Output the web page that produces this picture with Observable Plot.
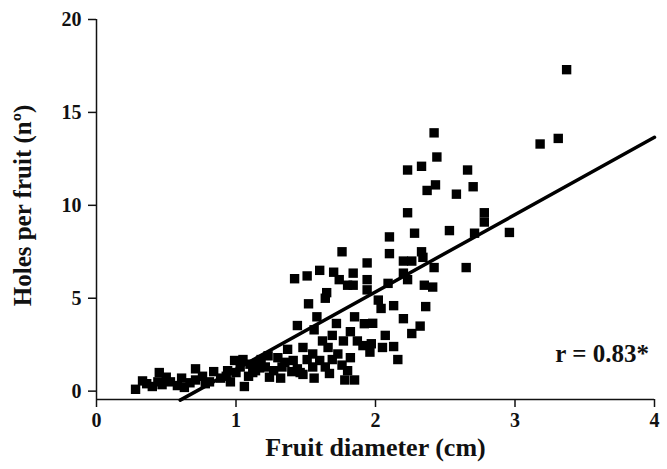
<!DOCTYPE html>
<html>
<head>
<meta charset="utf-8">
<script src="https://cdn.jsdelivr.net/npm/d3@7"></script>
<script src="https://cdn.jsdelivr.net/npm/@observablehq/plot@0.6"></script>
<style>
  html, body { margin: 0; padding: 0; background: #fff; }
  #chart svg { display: block; }
</style>
</head>
<body>
<div id="chart"></div>
<script>
// Fruit diameter (cm)
const diameter = [
  0.28,0.33,0.36,0.40,0.44,0.45,0.47,0.50,0.53,0.58,0.61,0.63,0.67,0.71,0.71,0.76,0.78,0.81,0.84,0.89,
  0.93,0.94,0.96,0.99,1.00,1.03,1.05,1.06,1.09,1.12,1.14,1.15,1.18,
  1.21,1.23,1.24,1.30,1.32,1.33,1.37,1.41,1.44,1.44,1.46,1.48,1.51,1.52,1.55,1.55,1.56,1.56,1.58,1.60,
  1.62,1.64,1.64,1.65,1.66,1.67,1.69,1.69,1.72,1.73,1.76,1.77,1.78,1.80,1.82,1.82,1.85,1.85,1.87,1.91,
  1.92,1.96,1.97,1.98,2.02,2.04,2.05,2.07,2.13,2.13,2.16,2.20,2.26,2.32,2.36,
  1.42,1.51,1.60,1.70,1.74,1.76,1.80,1.84,1.84,1.94,1.94,1.94,2.09,2.10,2.10,2.20,2.20,2.23,2.26,2.28,
  2.33,2.34,2.35,2.41,2.42,2.23,2.23,2.33,2.37,2.42,2.43,2.44,2.53,2.58,2.65,2.66,2.70,2.71,2.78,2.78,
  2.96,3.18,3.31,3.37,
  1.10,1.17,1.27,1.35,1.40,1.48
];
// Holes per fruit (nº)
const holes = [
  0.10,0.55,0.40,0.25,0.50,1.00,0.35,0.75,0.50,0.30,0.70,0.20,0.45,1.20,0.60,0.80,0.40,0.50,1.05,0.70,
  0.80,1.10,0.50,1.65,1.00,1.30,1.70,0.25,0.80,1.00,1.10,1.50,1.70,
  1.30,1.90,0.75,1.80,0.70,1.30,2.25,1.65,1.20,3.53,1.00,2.35,1.70,4.70,1.30,2.00,0.70,3.30,4.00,1.65,
  2.70,1.30,5.00,5.30,2.35,0.95,1.70,3.00,3.64,2.00,1.40,2.70,0.60,1.10,1.80,3.20,4.00,0.60,2.70,2.45,
  3.63,2.10,2.55,3.65,4.90,4.45,2.35,3.00,2.40,4.60,1.70,3.90,3.10,3.50,4.55,
  6.05,6.20,6.50,6.40,6.00,7.50,5.70,6.35,5.70,6.90,6.00,5.45,5.80,8.30,7.40,7.00,6.35,6.00,7.00,8.50,
  7.50,7.20,5.70,5.60,6.65,9.60,11.90,12.10,10.80,13.90,11.10,12.60,8.64,10.60,6.65,11.90,11.00,8.50,9.60,9.10,
  8.54,13.30,13.60,17.30,
  1.45,1.25,1.10,1.55,1.05,0.90
];
// Linear fit
const fitSlope = 4.16;
const fitIntercept = -2.98;
const fitXRange = [0.6, 4];
const xTicks = [0, 1, 2, 3, 4];
const yTicks = [0, 5, 10, 15, 20];
const xLabel = "Fruit diameter (cm)";
const yLabel = "Holes per fruit (nº)";
const rLabel = "r = 0.83*";
const rPos = {x: 3.96, y: 2.0};

const points = diameter.map((d, i) => ({x: d, y: holes[i]}));
const fit = fitXRange.map(x => ({x, y: fitIntercept + fitSlope * x}));

const chart = Plot.plot({
  width: 667,
  height: 469,
  marginLeft: 96,
  marginRight: 13,
  marginTop: 19,
  marginBottom: 70,
  style: {fontFamily: "'Liberation Serif', 'Times New Roman', serif", fontWeight: "bold", fontSize: "20px", color: "#111", background: "#fff"},
  x: {domain: [0, 4]},
  y: {domain: [-0.45, 20]},
  marks: [
    Plot.ruleX([0], {stroke: "#111", strokeWidth: 1.5}),
    Plot.ruleY([-0.45], {stroke: "#111", strokeWidth: 1.5}),
    Plot.axisX({ticks: xTicks, tickSize: 8, tickPadding: 5, tickFormat: d => String(d), label: null, fontSize: 20, fontWeight: "bold", strokeWidth: 1.5}),
    Plot.axisY({ticks: yTicks, tickSize: 8, tickPadding: 7, tickFormat: d => String(d), label: null, fontSize: 20, fontWeight: "bold", strokeWidth: 1.5}),
    Plot.dot(points, {x: "x", y: "y", symbol: "square", r: 5.3, fill: "#000", stroke: "none"}),
    Plot.line(fit, {x: "x", y: "y", stroke: "#000", strokeWidth: 3.5}),
    Plot.text([rLabel], {x: rPos.x, y: rPos.y, text: d => d, textAnchor: "end", fontSize: 25, fontWeight: "bold"}),
    Plot.text([xLabel], {frameAnchor: "bottom", textAnchor: "middle", dy: 56, text: d => d, fontSize: 26, fontWeight: "bold"}),
    Plot.text([yLabel], {frameAnchor: "left", textAnchor: "middle", dx: -74, dy: -4, rotate: -90, text: d => d, fontSize: 25, fontWeight: "bold"})
  ]
});
document.getElementById("chart").appendChild(chart);
</script>
</body>
</html>
